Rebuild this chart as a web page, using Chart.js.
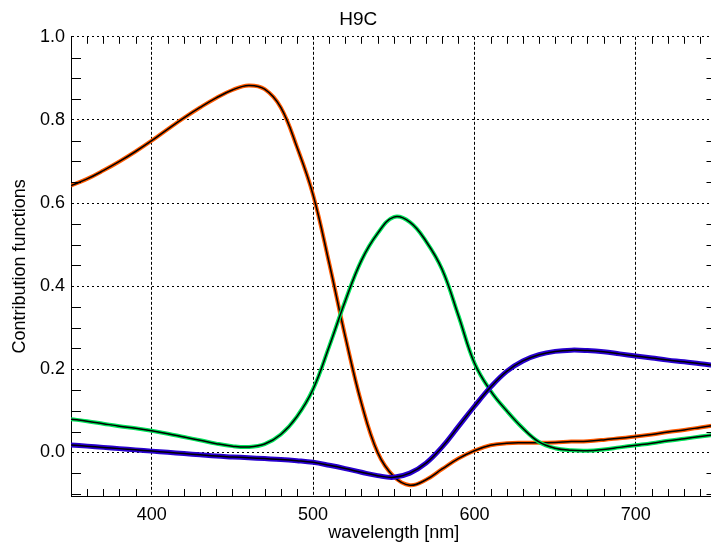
<!DOCTYPE html>
<html>
<head>
<meta charset="utf-8">
<script src="https://cdn.jsdelivr.net/npm/chart.js@4"></script>
<style>
    html, body { margin: 0; padding: 0; background: #fff; overflow: hidden; }
    #wrap { width: 722px; height: 547px; }
</style>
</head>
<body>
<div id="wrap"><canvas id="myChart" width="722" height="547"></canvas></div>
<script>
const wavelengths = [350, 360, 370, 380, 390, 400, 410, 420, 430, 440,
    450, 460, 470, 480, 490, 500, 510, 520, 530, 540,
    550, 560, 570, 580, 590, 600, 610, 620, 630, 640,
    650, 660, 670, 680, 690, 700, 710, 720, 730, 740, 750];

const redValues = [0.642, 0.658, 0.678, 0.700, 0.724, 0.750, 0.778, 0.805, 0.830, 0.853,
    0.872, 0.883, 0.874, 0.830, 0.735, 0.620, 0.455, 0.278, 0.118, 0.000,
    -0.058, -0.079, -0.066, -0.040, -0.015, 0.004, 0.017, 0.022, 0.023, 0.023,
    0.024, 0.026, 0.027, 0.030, 0.034, 0.038, 0.043, 0.049, 0.054, 0.060, 0.066];

const greenValues = [0.080, 0.075, 0.069, 0.063, 0.058, 0.052, 0.045, 0.037, 0.029, 0.021,
    0.015, 0.013, 0.020, 0.043, 0.086, 0.152, 0.255, 0.365, 0.462, 0.527,
    0.566, 0.554, 0.508, 0.440, 0.330, 0.215, 0.148, 0.100, 0.058, 0.025,
    0.010, 0.005, 0.004, 0.007, 0.012, 0.017, 0.022, 0.028, 0.033, 0.038, 0.043];

const blueValues = [0.018, 0.015, 0.012, 0.009, 0.006, 0.003, 0.000, -0.003, -0.006, -0.009,
    -0.011, -0.013, -0.015, -0.017, -0.020, -0.024, -0.031, -0.039, -0.048, -0.056,
    -0.060, -0.050, -0.026, 0.013, 0.062, 0.111, 0.157, 0.195, 0.220, 0.235,
    0.243, 0.246, 0.245, 0.242, 0.237, 0.232, 0.227, 0.222, 0.218, 0.213, 0.209];

const xTicks = [400, 500, 600, 700];
const yTicks = [0, 0.2, 0.4, 0.6, 0.8, 1.0];

const FONT = '"Liberation Sans", Arial, sans-serif';
Chart.defaults.font.family = FONT;
Chart.defaults.color = '#000';

function points(values) {
    return wavelengths.map((w, i) => ({ x: w, y: values[i] }));
}

// each curve: wide coloured band with a thin black line on top
function curve(values, color, width, order) {
    return [
        { data: points(values), borderColor: '#000', borderWidth: 1.5, tension: 0.4, order: order },
        { data: points(values), borderColor: color, borderWidth: width, tension: 0.4, order: order + 1 }
    ];
}

// inward minor ticks on all four sides
const minorTicks = {
    id: 'minorTicks',
    afterDraw(chart) {
        const { ctx, chartArea: a, scales: { x, y } } = chart;
        ctx.save();
        ctx.strokeStyle = '#000';
        ctx.lineWidth = 1;
        ctx.beginPath();
        for (let v = 360; v < 750; v += 10) {
            if (v % 100 === 0) continue;
            const px = Math.round(x.getPixelForValue(v)) + 0.5;
            ctx.moveTo(px, a.bottom); ctx.lineTo(px, a.bottom - 7);
            ctx.moveTo(px, a.top); ctx.lineTo(px, a.top + 7);
        }
        for (let k = -2; k <= 19; k++) {
            if (k % 4 === 0) continue;
            const py = Math.round(y.getPixelForValue(k * 0.05)) + 0.5;
            ctx.moveTo(a.left, py); ctx.lineTo(a.left + 10, py);
            ctx.moveTo(a.right, py); ctx.lineTo(a.right - 10, py);
        }
        ctx.stroke();
        ctx.restore();
    }
};

const chart = new Chart(document.getElementById('myChart'), {
    type: 'line',
    data: {
        datasets: [
            ...curve(blueValues, '#2800d0', 5, 0),
            ...curve(greenValues, '#00e45a', 4, 2),
            ...curve(redValues, '#ff5a00', 4, 4)
        ]
    },
    options: {
        responsive: false,
        devicePixelRatio: 1,
        animation: false,
        layout: { padding: { left: 0, right: 5.5, top: 0, bottom: 0 } },
        elements: {
            point: { radius: 0 },
            line: { fill: false }
        },
        plugins: {
            legend: { display: false },
            tooltip: { enabled: false },
            title: {
                display: true,
                text: 'H9C',
                color: '#000',
                font: { size: 19, weight: 'normal', family: FONT },
                padding: { top: 8, bottom: 6 }
            }
        },
        scales: {
            x: {
                type: 'linear',
                min: 350,
                max: 750,
                afterBuildTicks: s => { s.ticks = xTicks.map(v => ({ value: v })); },
                afterFit: s => { s.height = 51; },
                ticks: { font: { size: 18 }, padding: 8, color: '#000', maxRotation: 0 },
                grid: { color: '#000', lineWidth: 1, drawTicks: false },
                border: { display: true, color: '#000', width: 1, dash: [3, 2] },
                title: {
                    display: true,
                    text: 'wavelength [nm]',
                    color: '#000',
                    font: { size: 18 },
                    padding: { top: 0, bottom: 3 }
                }
            },
            y: {
                type: 'linear',
                min: -0.105,
                max: 1.0,
                afterBuildTicks: s => { s.ticks = yTicks.map(v => ({ value: v })); },
                afterFit: s => { s.width = 71; },
                ticks: {
                    font: { size: 18 },
                    padding: 6,
                    color: '#000',
                    callback: v => v.toFixed(1)
                },
                grid: { color: '#000', lineWidth: 1, drawTicks: false },
                border: { display: true, color: '#000', width: 1, dash: [2, 3] },
                title: {
                    display: true,
                    text: 'Contribution functions',
                    color: '#000',
                    font: { size: 18 },
                    padding: { top: 9, bottom: 9 }
                }
            }
        }
    },
    plugins: [minorTicks]
});
</script>
</body>
</html>
